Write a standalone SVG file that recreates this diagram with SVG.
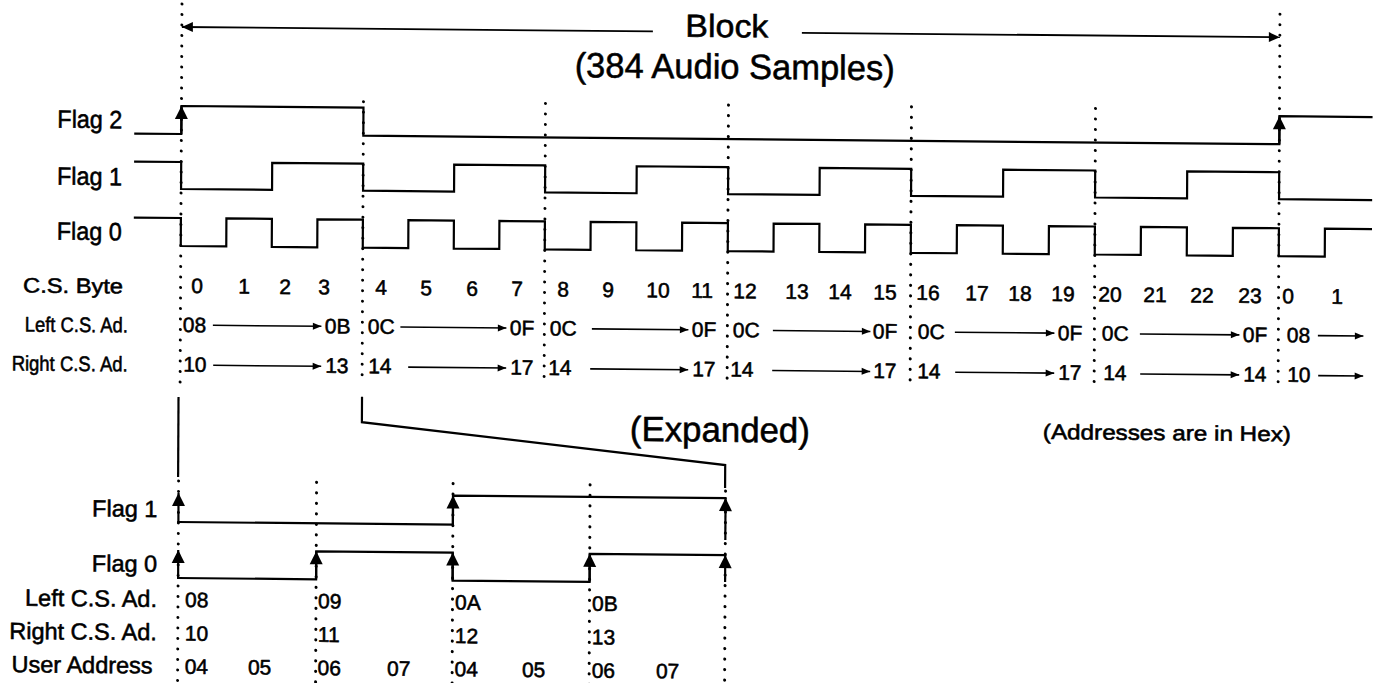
<svg xmlns="http://www.w3.org/2000/svg" width="1374" height="683" viewBox="0 0 1374 683">
<defs>
<style>
.t{font-family:"Liberation Sans",Arial,Helvetica,sans-serif;fill:#000;stroke:#000;stroke-width:0.55;stroke-linejoin:round}
.f21{font-size:21px}
.f23{font-size:23.5px}
.f25{font-size:25px}
.big{font-size:35px}
.m{text-anchor:middle}
.e{text-anchor:end}
.sig{fill:none;stroke:#000;stroke-width:2.2;stroke-linejoin:miter;stroke-linecap:square}
.dot{fill:none;stroke:#000;stroke-width:3;stroke-linecap:round;stroke-dasharray:0.1 10.4}
.edge{fill:none;stroke:#000;stroke-width:2.2}
.ra{fill:none;stroke:#000;stroke-width:1.6}
.blk{fill:none;stroke:#000;stroke-width:1.8}
</style>
<marker id="ah" markerUnits="userSpaceOnUse" markerWidth="14" markerHeight="14" refX="13" refY="6.5" orient="auto" overflow="visible"><path d="M0,0 L13,6.5 L0,13 z" fill="#000"/></marker>
<marker id="ba" markerUnits="userSpaceOnUse" markerWidth="12" markerHeight="12" refX="11" refY="5" orient="auto" overflow="visible"><path d="M0,0 L11,5 L0,10 z" fill="#000"/></marker>
<marker id="sa" markerUnits="userSpaceOnUse" markerWidth="10" markerHeight="8" refX="8.5" refY="3.5" orient="auto" overflow="visible"><path d="M0,0 L8.5,3.5 L0,7 z" fill="#000"/></marker>
</defs>
<rect width="1374" height="683" fill="#fff"/>
<g transform="matrix(1 0.0093 -0.005 1 0 -1.68)">

<g id="block-span">
<line class="blk" x1="653" y1="27" x2="182" y2="27" marker-end="url(#ba)"/>
<line class="blk" x1="802" y1="27" x2="1280" y2="27" marker-end="url(#ba)"/>
<text class="t" x="727" y="32" font-size="32" text-anchor="middle" textLength="83" lengthAdjust="spacingAndGlyphs">Block</text>
<text class="t" x="735" y="73.5" font-size="35" text-anchor="middle" textLength="320" lengthAdjust="spacingAndGlyphs">(384 Audio Samples)</text>
</g>

<g id="dividers">
<line class="dot" x1="182" y1="4" x2="182" y2="386"/>
<line class="dot" x1="364" y1="100" x2="364" y2="381"/>
<line class="dot" x1="546" y1="100" x2="546" y2="381"/>
<line class="dot" x1="729" y1="100" x2="729" y2="381"/>
<line class="dot" x1="912" y1="100" x2="912" y2="381"/>
<line class="dot" x1="1096" y1="100" x2="1096" y2="381"/>
<line class="dot" x1="1280" y1="4" x2="1280" y2="381"/>
</g>

<g id="row-labels">
<text class="t f25" x="58" y="128.8" textLength="65" lengthAdjust="spacingAndGlyphs">Flag 2</text>
<text class="t f25" x="58" y="185.8" textLength="65" lengthAdjust="spacingAndGlyphs">Flag 1</text>
<text class="t f25" x="58" y="240.8" textLength="65" lengthAdjust="spacingAndGlyphs">Flag 0</text>
<text class="t f21" x="24.5" y="294" textLength="100" lengthAdjust="spacingAndGlyphs">C.S. Byte</text>
<text class="t f21" x="26.5" y="333" textLength="103" lengthAdjust="spacingAndGlyphs">Left C.S. Ad.</text>
<text class="t f21" x="13.5" y="372" textLength="116" lengthAdjust="spacingAndGlyphs">Right C.S. Ad.</text>
</g>

<g id="flag2">
<path class="sig" d="M136,134 H182 V106 H364 V134 H1280 V106 H1372"/>
<line class="edge" x1="182" y1="134" x2="182" y2="106" marker-end="url(#ah)"/>
<line class="edge" x1="1280" y1="134" x2="1280" y2="106" marker-end="url(#ah)"/>
</g>
<g id="flag1">
<path class="sig" d="M136,162 H182 V189 H273 V162 H364 V189 H455 V162 H546 V189 H637.5 V162 H729 V189 H820.5 V162 H912 V189 H1004 V162 H1096 V189 H1188 V162 H1280 V189 H1372"/>
</g>
<g id="flag0">
<path class="sig" d="M136,218 H182 V246 H227.5 V218 H273 V246 H318.5 V218 H364 V246 H409.5 V218 H455 V246 H500.5 V218 H546 V246 H591.75 V218 H637.5 V246 H683.25 V218 H729 V246 H774.75 V218 H820.5 V246 H866.25 V218 H912 V246 H958 V218 H1004 V246 H1050 V218 H1096 V246 H1142 V218 H1188 V246 H1234 V218 H1280 V246 H1326 V218 H1372"/>
</g>

<g id="cs-byte" class="t f21 m">
<text x="198.5" y="293">0</text><text x="245.5" y="293">1</text><text x="286.5" y="293">2</text><text x="325.5" y="293">3</text>
<text x="382.5" y="293">4</text><text x="427.5" y="293">5</text><text x="473.5" y="293">6</text><text x="518.5" y="293">7</text>
<text x="564.5" y="293">8</text><text x="609.5" y="293">9</text><text x="659.5" y="293">10</text><text x="703.5" y="293">11</text>
<text x="746.5" y="293">12</text><text x="798.5" y="293">13</text><text x="841.5" y="293">14</text><text x="886.5" y="293">15</text>
<text x="929.5" y="293">16</text><text x="978.5" y="293">17</text><text x="1021.5" y="293">18</text><text x="1064.5" y="293">19</text>
<text x="1111.5" y="293">20</text><text x="1156.5" y="293">21</text><text x="1203.5" y="293">22</text><text x="1251.5" y="293">23</text>
<text x="1289.5" y="293">0</text><text x="1338.5" y="293">1</text>
</g>

<g id="left-cs" class="t f21">
<text x="184.5" y="332">08</text><text x="326.5" y="332">0B</text>
<text x="369.5" y="332">0C</text><text x="511.5" y="332">0F</text>
<text x="551.5" y="332">0C</text><text x="693.5" y="332">0F</text>
<text x="734.5" y="332">0C</text><text x="874.5" y="332">0F</text>
<text x="919.5" y="332">0C</text><text x="1059.5" y="332">0F</text>
<text x="1103.5" y="332">0C</text><text x="1244.5" y="332">0F</text>
<text x="1288.5" y="332">08</text>
</g>
<g id="right-cs" class="t f21">
<text x="185" y="371.5">10</text><text x="327" y="371.5">13</text>
<text x="370" y="371.5">14</text><text x="512" y="371.5">17</text>
<text x="550" y="371.5">14</text><text x="694" y="371.5">17</text>
<text x="732" y="371.5">14</text><text x="875" y="371.5">17</text>
<text x="919" y="371.5">14</text><text x="1060" y="371.5">17</text>
<text x="1105" y="371.5">14</text><text x="1245" y="371.5">14</text>
<text x="1289" y="371.5">10</text>
</g>

<g id="connectors">
<line class="ra" x1="214.5" y1="325" x2="323" y2="325" marker-end="url(#sa)"/>
<line class="ra" x1="402" y1="325" x2="508" y2="325" marker-end="url(#sa)"/>
<line class="ra" x1="593.5" y1="325" x2="690" y2="325" marker-end="url(#sa)"/>
<line class="ra" x1="774.5" y1="325" x2="872" y2="325" marker-end="url(#sa)"/>
<line class="ra" x1="956.5" y1="325" x2="1056" y2="325" marker-end="url(#sa)"/>
<line class="ra" x1="1141.5" y1="325" x2="1241" y2="325" marker-end="url(#sa)"/>
<line class="ra" x1="1319.5" y1="325" x2="1365" y2="325" marker-end="url(#sa)"/>
<line class="ra" x1="215" y1="365" x2="323" y2="365" marker-end="url(#sa)"/>
<line class="ra" x1="410" y1="365" x2="508" y2="365" marker-end="url(#sa)"/>
<line class="ra" x1="592" y1="365" x2="690" y2="365" marker-end="url(#sa)"/>
<line class="ra" x1="774" y1="365" x2="872" y2="365" marker-end="url(#sa)"/>
<line class="ra" x1="957" y1="365" x2="1056" y2="365" marker-end="url(#sa)"/>
<line class="ra" x1="1142" y1="365" x2="1241" y2="365" marker-end="url(#sa)"/>
<line class="ra" x1="1320" y1="365" x2="1365" y2="365" marker-end="url(#sa)"/>
</g>

<g id="notes">
<text class="t big" x="722" y="436.7" text-anchor="middle" textLength="180" lengthAdjust="spacingAndGlyphs">(Expanded)</text>
<text class="t f21" x="1045" y="431" textLength="248" lengthAdjust="spacingAndGlyphs">(Addresses are in Hex)</text>
</g>

<g id="expand-bracket">
<line class="edge" x1="180.5" y1="397" x2="180.5" y2="477"/>
<path class="edge" d="M364,395 V420.5 L727.5,460 V483"/>
</g>

<g id="exp-dividers">
<line class="dot" x1="181" y1="481" x2="181" y2="690"/>
<line class="dot" x1="319" y1="481" x2="319" y2="690"/>
<line class="dot" x1="455.5" y1="481" x2="455.5" y2="690"/>
<line class="dot" x1="592.5" y1="481" x2="592.5" y2="690"/>
<line class="dot" x1="728" y1="486" x2="728" y2="690"/>
</g>

<g id="exp-labels" class="t f23 e">
<text x="160" y="517.2">Flag 1</text>
<text x="160" y="572.2">Flag 0</text>
<text x="160" y="607.2">Left C.S. Ad.</text>
<text x="160" y="640.5">Right C.S. Ad.</text>
<text x="156" y="673.8">User Address</text>
</g>

<g id="exp-flag1">
<path class="sig" d="M181,522 H455.5 V493 H728"/>
<line class="edge" x1="181" y1="522" x2="181" y2="493" marker-end="url(#ah)"/>
<line class="edge" x1="455.5" y1="522" x2="455.5" y2="493" marker-end="url(#ah)"/>
<line class="edge" x1="728" y1="535" x2="728" y2="493" marker-end="url(#ah)"/>
</g>
<g id="exp-flag0">
<path class="sig" d="M181,578 H319 V550 H455.5 V578 H592.5 V550 H728"/>
<line class="edge" x1="181" y1="578" x2="181" y2="550" marker-end="url(#ah)"/>
<line class="edge" x1="319" y1="578" x2="319" y2="550" marker-end="url(#ah)"/>
<line class="edge" x1="455.5" y1="578" x2="455.5" y2="550" marker-end="url(#ah)"/>
<line class="edge" x1="592.5" y1="578" x2="592.5" y2="550" marker-end="url(#ah)"/>
<line class="edge" x1="728" y1="577" x2="728" y2="550" marker-end="url(#ah)"/>
</g>

<g id="exp-data" class="t f21">
<text x="188" y="607">08</text><text x="321" y="607">09</text><text x="458" y="607">0A</text><text x="595" y="607">0B</text>
<text x="188" y="640.5">10</text><text x="321" y="640.5">11</text><text x="458" y="640.5">12</text><text x="595" y="640.5">13</text>
<text x="188" y="673.8">04</text><text x="263" y="673.8" text-anchor="middle">05</text><text x="321" y="673.8">06</text><text x="402" y="673.8" text-anchor="middle">07</text>
<text x="458" y="673.8">04</text><text x="537" y="673.8" text-anchor="middle">05</text><text x="595" y="673.8">06</text><text x="671" y="673.8" text-anchor="middle">07</text>
</g>

</g>
</svg>
